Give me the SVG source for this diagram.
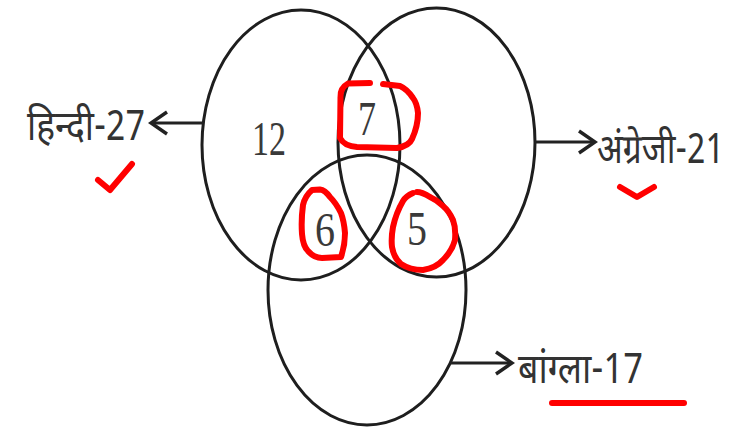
<svg xmlns="http://www.w3.org/2000/svg" width="744" height="427" viewBox="0 0 744 427">
<style>
.set{fill:none;stroke:#1e1e1e;stroke-width:3}
.conn{fill:none;stroke:#222;stroke-width:3}
.lbl{font-family:"Noto Sans Devanagari","Noto Sans","DejaVu Sans",sans-serif;font-size:41px;fill:#333}
.num{font-family:"Liberation Serif","Times New Roman",serif;font-size:48px;fill:#3a3a3a}
.mark{fill:none;stroke:#ff0000;stroke-width:6;stroke-linecap:round;stroke-linejoin:round}
</style>
<defs>
<marker id="ah" markerUnits="userSpaceOnUse" markerWidth="24" markerHeight="30" viewBox="-20 -15 24 30" refX="0" refY="0" orient="auto">
<path d="M-16,-11 L0,0 L-16,11" fill="none" stroke="#222" stroke-width="3.4"/>
</marker>
</defs>
<rect width="744" height="427" fill="#fff"/>
<g id="hindi">
<ellipse class="set" cx="301" cy="145" rx="99" ry="135"/>
<text class="lbl" x="27" y="140" textLength="118" lengthAdjust="spacingAndGlyphs">हिन्दी-27</text>
</g>
<g id="angrezi">
<ellipse class="set" cx="436.5" cy="142.5" rx="98.5" ry="134.5"/>
<text class="lbl" transform="translate(597 163) scale(0.82 1)" x="0" y="0" textLength="155" lengthAdjust="spacingAndGlyphs">अंग्रेजी-21</text>
</g>
<g id="bangla">
<ellipse class="set" cx="367" cy="290" rx="99" ry="135"/>
<text class="lbl" x="518" y="383" textLength="125" lengthAdjust="spacingAndGlyphs">बांग्ला-17</text>
</g>
<g id="connectors">
<line class="conn" x1="203" y1="123" x2="151" y2="123" marker-end="url(#ah)"/>
<line class="conn" x1="535" y1="142" x2="595" y2="142" marker-end="url(#ah)"/>
<line class="conn" x1="450" y1="363" x2="512" y2="363" marker-end="url(#ah)"/>
</g>
<g id="numbers">
<text class="num" x="252" y="155" textLength="34" lengthAdjust="spacingAndGlyphs">12</text>
<text class="num" x="358" y="135" textLength="18" lengthAdjust="spacingAndGlyphs">7</text>
<text class="num" x="315" y="246" textLength="20" lengthAdjust="spacingAndGlyphs">6</text>
<text class="num" x="407" y="245" textLength="20" lengthAdjust="spacingAndGlyphs">5</text>
</g>
<g id="annotations">
<path class="mark" d="M370,83 L348,83.5 Q340,88 340.5,97 L340,138 Q344,146 357,147 L397,148 Q409,146 412,139 Q418,126 418,113 Q417,103 413,98 Q407,89 400,86 L383,84"/>
<path class="mark" d="M312,190 Q305,196 303,205 Q301,220 302,234 Q303,246 308,251 Q314,258 322,258 L341,257 Q345,245 345,233 Q344,221 341,213 Q336,203 330,197 Q325,190 320,189.5 Z"/>
<path class="mark" d="M413,193 Q406,196 403,201 Q396,213 393,227 Q391,238 392,247 Q394,258 401,264 Q410,270 423,270 Q436,268 443,260 Q452,251 455,240 Q456,228 453,220 Q449,211 443,206 Q437,200 430,197 Q422,192 417,192"/>
<path class="mark" d="M98,180 L110,190 L132,164"/>
<path class="mark" d="M620,187 L637,197 L654,187"/>
<path class="mark" d="M552,403 L684,403"/>
</g>
</svg>
